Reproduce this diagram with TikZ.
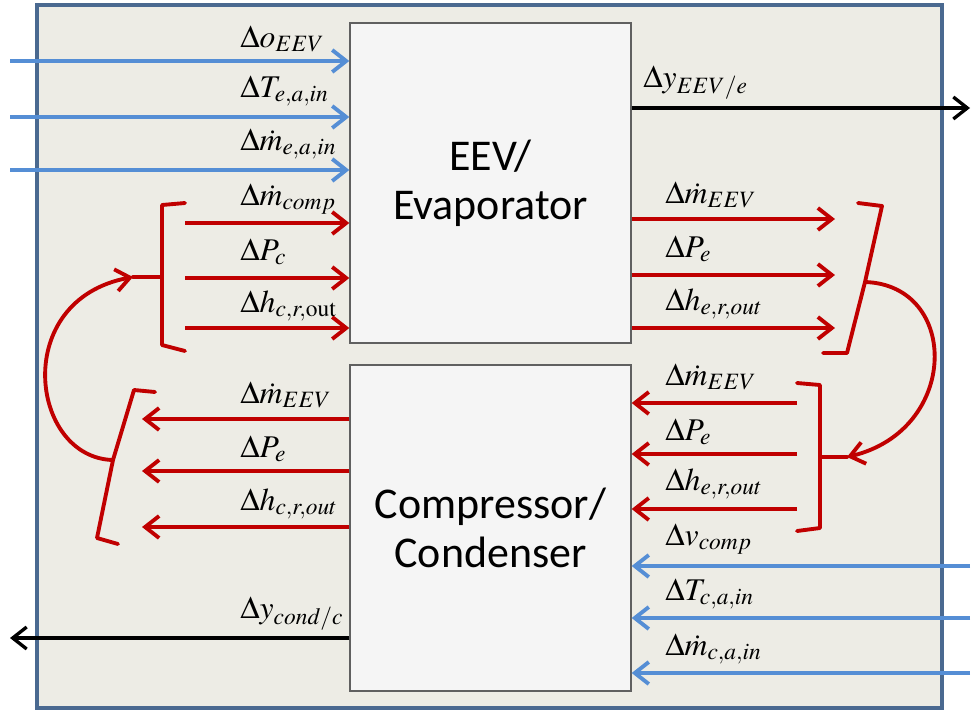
\documentclass[tikz,border=0pt]{standalone}
\usepackage{mathptmx}
\usepackage[no-math]{fontspec}
\setmainfont{Liberation Serif}
\newfontfamily\blockfont{Carlito}
\usetikzlibrary{arrows.meta,positioning,calc}
\definecolor{sigblue}{HTML}{558ED5}
\definecolor{sigred}{HTML}{C00000}
\definecolor{framefill}{HTML}{EDECE5}
\definecolor{frameline}{HTML}{4A6990}

\begin{document}
\begin{tikzpicture}[x=0.02cm, y=-0.02cm,
  block/.style={draw=gray!75!black, fill=gray!8, minimum width=5.62cm, inner sep=0pt, align=center, line width=0.8pt, font=\fontsize{25}{28}\selectfont\blockfont},
  lbl/.style={anchor=base west, inner sep=0pt, font=\fontsize{18}{20}\selectfont},
  barb/.style={-{Straight Barb[length=2.8mm,width=4.4mm]}, line width=2.2pt},
  inarr/.style={barb, sigblue},
  fbarr/.style={barb, sigred},
  outarr/.style={barb, black, line width=1.9pt},
  brace/.style={sigred, line width=2.2pt, line join=round, line cap=round}
]
\useasboundingbox (0,0) rectangle (974,711);
\draw[frameline, fill=framefill, line width=2pt] (37,5) rectangle (942,708);

\node[block, minimum height=6.4cm] (evap) at (490.5,183) {EEV/\\Evaporator};
\node[block, minimum height=6.52cm] (comp) at (490.5,528) {Compressor/\\Condenser};

% external inputs and outputs
\coordinate (oeev) at (10,61);
\coordinate (tea) at (10,117);
\coordinate (mea) at (10,170);
\coordinate (yeev) at (970,108);
\coordinate (vcomp) at (970,566);
\coordinate (tca) at (970,618);
\coordinate (mca) at (970,673);
\coordinate (ycond) at (10,638);

\draw[inarr] (oeev) -- (oeev -| evap.west);
\draw[inarr] (tea) -- (tea -| evap.west);
\draw[inarr] (mea) -- (mea -| evap.west);
\draw[outarr] (evap.east |- yeev) -- (yeev);
\draw[inarr] (vcomp) -- (vcomp -| comp.east);
\draw[inarr] (tca) -- (tca -| comp.east);
\draw[inarr] (mca) -- (mca -| comp.east);
\draw[outarr] (comp.west |- ycond) -- (ycond);

\node[lbl] (l-oeev) at (240,47) {$\Delta o_{EEV}$};
\node[lbl] (l-tea) at (240,97) {$\Delta T_{e,a,in}$};
\node[lbl] (l-mea) at (240,150) {$\Delta \dot{m}_{e,a,in}$};
\node[lbl] (l-yeev) at (643,87) {$\Delta y_{EEV/e}$};
\node[lbl] (l-vcomp) at (665,545) {$\Delta v_{comp}$};
\node[lbl] (l-tca) at (665,600) {$\Delta T_{c,a,in}$};
\node[lbl] (l-mca) at (665,655) {$\Delta \dot{m}_{c,a,in}$};
\node[lbl] (l-ycond) at (240,618) {$\Delta y_{cond/c}$};

% coupling signals
\coordinate (cin1) at (185,223);
\coordinate (cin2) at (185,278);
\coordinate (cin3) at (185,328);
\coordinate (eout1) at (835,219);
\coordinate (eout2) at (835,275);
\coordinate (eout3) at (835,328);
\coordinate (ein1) at (797,403);
\coordinate (ein2) at (797,454);
\coordinate (ein3) at (797,509);
\coordinate (cout1) at (142,419);
\coordinate (cout2) at (142,471);
\coordinate (cout3) at (142,527);

\draw[fbarr] (cin1) -- (cin1 -| evap.west);
\draw[fbarr] (cin2) -- (cin2 -| evap.west);
\draw[fbarr] (cin3) -- (cin3 -| evap.west);
\draw[fbarr] (evap.east |- eout1) -- (eout1);
\draw[fbarr] (evap.east |- eout2) -- (eout2);
\draw[fbarr] (evap.east |- eout3) -- (eout3);
\draw[fbarr] (ein1) -- (ein1 -| comp.east);
\draw[fbarr] (ein2) -- (ein2 -| comp.east);
\draw[fbarr] (ein3) -- (ein3 -| comp.east);
\draw[fbarr] (comp.west |- cout1) -- (cout1);
\draw[fbarr] (comp.west |- cout2) -- (cout2);
\draw[fbarr] (comp.west |- cout3) -- (cout3);

\node[lbl] (l-cin1) at (240,205) {$\Delta \dot{m}_{comp}$};
\node[lbl] (l-cin2) at (240,260) {$\Delta P_{c}$};
\node[lbl] (l-cin3) at (240,312) {$\Delta h_{c,r,\mathrm{out}}$};
\node[lbl] (l-eout1) at (665,203) {$\Delta \dot{m}_{EEV}$};
\node[lbl] (l-eout2) at (665,257) {$\Delta P_{e}$};
\node[lbl] (l-eout3) at (665,310) {$\Delta h_{e,r,out}$};
\node[lbl] (l-ein1) at (665,385) {$\Delta \dot{m}_{EEV}$};
\node[lbl] (l-ein2) at (665,440) {$\Delta P_{e}$};
\node[lbl] (l-ein3) at (665,490) {$\Delta h_{e,r,out}$};
\node[lbl] (l-cout1) at (240,403) {$\Delta \dot{m}_{EEV}$};
\node[lbl] (l-cout2) at (240,457) {$\Delta P_{e}$};
\node[lbl] (l-cout3) at (240,510) {$\Delta h_{c,r,out}$};

% braces and loops
\coordinate (ultip) at (133,277);
\coordinate (lltip) at (113,460);
\coordinate (urtip) at (865,282);
\coordinate (lrtip) at (847,457);

\draw[brace] (185,203) -- (162,205) -- (162,345) -- (185,351);
\draw[brace] (162,277) -- (ultip);
\draw[brace] (155,392) -- (134,390) -- (lltip) -- (97,538) -- (118,544);
\draw[brace] (858,203) -- (882,206) -- (urtip) -- (847,353) -- (823,353);
\draw[brace] (797,383) -- (820,385) -- (820,528) -- (797,531);
\draw[brace] (820,457) -- (lrtip);

\draw[fbarr] (lltip) .. controls (30,458) and (10,300) .. (ultip);
\draw[fbarr] (urtip) .. controls (960,285) and (960,430) .. (lrtip);

\end{tikzpicture}
\end{document}
